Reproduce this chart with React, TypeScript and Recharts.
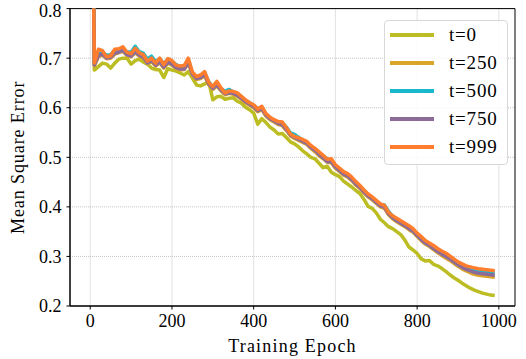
import React from "react";
import {
  LineChart,
  Line,
  XAxis,
  YAxis,
  CartesianGrid,
  Legend,
  ReferenceArea,
} from "recharts";

const epochs = [
  0, 10, 20, 30, 40, 50, 60, 70, 80, 90,
  100, 110, 120, 130, 140, 150, 160, 170, 180, 190,
  200, 210, 220, 230, 240, 250, 260, 270, 280, 290,
  300, 310, 320, 330, 340, 350, 360, 370, 380, 390,
  400, 410, 420, 430, 440, 450, 460, 470, 480, 490,
  500, 510, 520, 530, 540, 550, 560, 570, 580, 590,
  600, 610, 620, 630, 640, 650, 660, 670, 680, 690,
  700, 710, 720, 730, 740, 750, 760, 770, 780, 790,
  800, 810, 820, 830, 840, 850, 860, 870, 880, 890,
  900, 910, 920, 930, 940, 950, 960, 970, 980, 990,
];

const t0 = [
  1.5, 0.676, 0.683, 0.69, 0.688, 0.68, 0.69, 0.698, 0.7, 0.7,
  0.688, 0.695, 0.698, 0.692, 0.688, 0.68, 0.677, 0.676, 0.661, 0.679,
  0.676, 0.674, 0.67, 0.666, 0.673, 0.66, 0.646, 0.644, 0.648, 0.653,
  0.616, 0.622, 0.623, 0.617, 0.619, 0.62, 0.613, 0.609, 0.601, 0.596,
  0.589, 0.567, 0.578, 0.57, 0.561, 0.555, 0.547, 0.548, 0.54, 0.531,
  0.527, 0.521, 0.513, 0.507, 0.5, 0.497, 0.488, 0.479, 0.482, 0.47,
  0.465, 0.461, 0.452, 0.446, 0.44, 0.433, 0.427, 0.415, 0.401, 0.397,
  0.388, 0.375, 0.368, 0.36, 0.356, 0.35, 0.344, 0.333, 0.319, 0.313,
  0.306, 0.295, 0.291, 0.292, 0.284, 0.281, 0.276, 0.27, 0.263, 0.257,
  0.252, 0.246, 0.241, 0.236, 0.232, 0.229, 0.226, 0.224, 0.222, 0.221,
];

const t250 = [
  1.5, 0.684, 0.703, 0.706, 0.699, 0.7, 0.708, 0.711, 0.714, 0.705,
  0.703, 0.711, 0.704, 0.7, 0.689, 0.693, 0.684, 0.691, 0.68, 0.69,
  0.686, 0.679, 0.676, 0.677, 0.69, 0.666, 0.657, 0.659, 0.665, 0.646,
  0.637, 0.644, 0.634, 0.626, 0.629, 0.627, 0.623, 0.617, 0.61, 0.605,
  0.6, 0.592, 0.596, 0.583, 0.576, 0.571, 0.566, 0.564, 0.554, 0.543,
  0.538, 0.534, 0.53, 0.526, 0.518, 0.511, 0.503, 0.497, 0.49, 0.489,
  0.478, 0.471, 0.464, 0.46, 0.453, 0.444, 0.437, 0.428, 0.42, 0.414,
  0.407, 0.4, 0.397, 0.384, 0.376, 0.37, 0.365, 0.36, 0.354, 0.349,
  0.34, 0.332, 0.325, 0.32, 0.314, 0.308, 0.302, 0.297, 0.292, 0.286,
  0.28, 0.275, 0.271, 0.267, 0.264, 0.262, 0.261, 0.26, 0.259, 0.258,
];

const t500 = [
  1.5, 0.688, 0.712, 0.712, 0.706, 0.707, 0.716, 0.717, 0.72, 0.713,
  0.712, 0.724, 0.713, 0.71, 0.698, 0.704, 0.693, 0.699, 0.688, 0.698,
  0.694, 0.687, 0.683, 0.684, 0.697, 0.671, 0.662, 0.664, 0.671, 0.652,
  0.642, 0.65, 0.639, 0.633, 0.637, 0.632, 0.628, 0.622, 0.615, 0.61,
  0.605, 0.598, 0.601, 0.587, 0.58, 0.575, 0.569, 0.57, 0.561, 0.549,
  0.546, 0.54, 0.534, 0.53, 0.522, 0.517, 0.509, 0.503, 0.497, 0.494,
  0.483, 0.476, 0.469, 0.465, 0.458, 0.449, 0.441, 0.433, 0.425, 0.418,
  0.411, 0.405, 0.404, 0.391, 0.381, 0.374, 0.369, 0.364, 0.358, 0.353,
  0.344, 0.337, 0.33, 0.324, 0.319, 0.313, 0.308, 0.303, 0.298, 0.292,
  0.286, 0.282, 0.278, 0.275, 0.273, 0.271, 0.27, 0.269, 0.268, 0.267,
];

const t750 = [
  1.5, 0.686, 0.705, 0.708, 0.7, 0.702, 0.71, 0.712, 0.716, 0.707,
  0.704, 0.713, 0.706, 0.702, 0.69, 0.695, 0.686, 0.693, 0.682, 0.692,
  0.688, 0.681, 0.678, 0.678, 0.692, 0.668, 0.659, 0.661, 0.667, 0.648,
  0.639, 0.646, 0.636, 0.628, 0.63, 0.629, 0.625, 0.619, 0.612, 0.607,
  0.602, 0.594, 0.598, 0.585, 0.578, 0.573, 0.568, 0.566, 0.556, 0.545,
  0.54, 0.536, 0.532, 0.528, 0.52, 0.514, 0.506, 0.499, 0.491, 0.491,
  0.48, 0.473, 0.466, 0.462, 0.455, 0.446, 0.439, 0.43, 0.422, 0.416,
  0.409, 0.402, 0.399, 0.386, 0.378, 0.372, 0.367, 0.362, 0.356, 0.351,
  0.342, 0.334, 0.327, 0.322, 0.316, 0.31, 0.305, 0.3, 0.295, 0.289,
  0.283, 0.278, 0.274, 0.271, 0.268, 0.266, 0.265, 0.264, 0.263, 0.262,
];

const t999 = [
  1.5, 0.69, 0.718, 0.715, 0.703, 0.705, 0.718, 0.719, 0.723, 0.712,
  0.709, 0.72, 0.711, 0.707, 0.694, 0.7, 0.69, 0.7, 0.687, 0.699,
  0.695, 0.686, 0.684, 0.685, 0.7, 0.672, 0.663, 0.666, 0.673, 0.651,
  0.643, 0.653, 0.64, 0.63, 0.634, 0.633, 0.63, 0.623, 0.616, 0.61,
  0.606, 0.597, 0.603, 0.588, 0.581, 0.576, 0.572, 0.571, 0.56, 0.547,
  0.542, 0.539, 0.536, 0.532, 0.524, 0.518, 0.511, 0.504, 0.496, 0.497,
  0.485, 0.478, 0.471, 0.467, 0.46, 0.451, 0.443, 0.434, 0.426, 0.42,
  0.413, 0.406, 0.403, 0.389, 0.382, 0.377, 0.372, 0.367, 0.362, 0.356,
  0.347, 0.34, 0.332, 0.327, 0.322, 0.316, 0.311, 0.307, 0.301, 0.295,
  0.289, 0.285, 0.281, 0.279, 0.277, 0.275, 0.274, 0.273, 0.272, 0.271,
];

const seriesNames = ["t=0", "t=250", "t=500", "t=750", "t=999"];
const seriesKeys = ["t0", "t250", "t500", "t750", "t999"];
const seriesColors = ["#bcbd22", "#dba52a", "#1bb8cd", "#8d6b98", "#ff7d2c"];
const xTicks = [0, 200, 400, 600, 800, 1000];
const yTicks = [0.2, 0.3, 0.4, 0.5, 0.6, 0.7, 0.8];

const data = epochs.map((e, i) => ({
  epoch: e,
  t0: t0[i],
  t250: t250[i],
  t500: t500[i],
  t750: t750[i],
  t999: t999[i],
}));

const FONT = "'Liberation Serif', 'DejaVu Serif', serif";

const renderLegend = () => (
  <div
    style={{
      width: 122,
      height: 143,
      border: "1px solid #d8d8d8",
      borderRadius: 4,
      background: "rgba(255,255,255,0.85)",
      position: "relative",
      fontFamily: FONT,
    }}
  >
    {seriesNames.map((n, i) => (
      <div
        key={n}
        style={{
          position: "absolute",
          left: 0,
          top: i * 28,
          height: 28,
          width: 122,
        }}
      >
        <div
          style={{
            position: "absolute",
            left: 5,
            top: 12,
            width: 44,
            height: 3.5,
            background: seriesColors[i],
          }}
        />
        <span
          style={{
            position: "absolute",
            left: 64,
            top: 2,
            fontSize: 19,
            lineHeight: "24px",
            letterSpacing: 0.8,
            color: "#000",
          }}
        >
          {n}
        </span>
      </div>
    ))}
  </div>
);

const YLabel = (props: any) => {
  const vb = props.viewBox || {};
  const cx = 18.5;
  const cy = (vb.y ?? 0) + (vb.height ?? 0) / 2;
  return (
    <text
      x={cx}
      y={cy}
      transform={`rotate(-90, ${cx}, ${cy})`}
      textAnchor="middle"
      dominantBaseline="central"
      fontFamily={FONT}
      fontSize={18}
      letterSpacing={0.9}
      fill="#000"
    >
      Mean Square Error
    </text>
  );
};

export default function App() {
  return (
    <div style={{ position: "absolute", left: 0, top: 0, background: "#fff" }}>
      <LineChart
        width={526}
        height={359}
        data={data}
        margin={{ top: 8.6, right: 11, bottom: 0, left: 0 }}
        style={{ fontFamily: FONT }}
      >
        <CartesianGrid
          stroke="#c4c4c4"
          strokeDasharray="1 1"
          strokeWidth={1}
          horizontalValues={yTicks}
          verticalValues={xTicks}
        />
        <XAxis
          dataKey="epoch"
          type="number"
          domain={[-49.5, 1039.5]}
          ticks={xTicks}
          allowDataOverflow
          height={53}
          tickSize={3.5}
          tickMargin={5}
          stroke="#000"
          tick={{ fill: "#000", fontSize: 18, fontFamily: FONT }}
          tickLine={{ stroke: "#000" }}
          axisLine={{ stroke: "#000" }}
          label={{
            value: "Training Epoch",
            position: "insideBottom",
            offset: 7,
            fill: "#000",
            fontSize: 18,
            fontFamily: FONT,
            letterSpacing: 1.2,
          }}
        />
        <YAxis
          type="number"
          domain={[0.2, 0.8]}
          ticks={yTicks}
          allowDataOverflow
          width={70}
          tickSize={3.5}
          tickMargin={5}
          stroke="#000"
          tickFormatter={(v: number) => v.toFixed(1)}
          tick={{ fill: "#000", fontSize: 18, fontFamily: FONT }}
          tickLine={{ stroke: "#000" }}
          axisLine={{ stroke: "#000" }}
          label={<YLabel />}
        />
        <ReferenceArea
          x1={-49.5}
          x2={1039.5}
          y1={0.2}
          y2={0.8}
          fill="none"
          fillOpacity={0}
          stroke="#000"
          strokeWidth={1}
          ifOverflow="extendDomain"
        />
        {seriesKeys.map((k, i) => (
          <Line
            key={k}
            type="linear"
            dataKey={k}
            name={seriesNames[i]}
            stroke={seriesColors[i]}
            strokeWidth={3.5}
            strokeLinejoin="round"
            dot={false}
            activeDot={false}
            isAnimationActive={false}
          />
        ))}
        <Legend
          layout="vertical"
          align="center"
          verticalAlign="middle"
          width={124}
          content={renderLegend}
          wrapperStyle={{ left: 384, top: 20, width: 124, height: 145 }}
        />
      </LineChart>
    </div>
  );
}
